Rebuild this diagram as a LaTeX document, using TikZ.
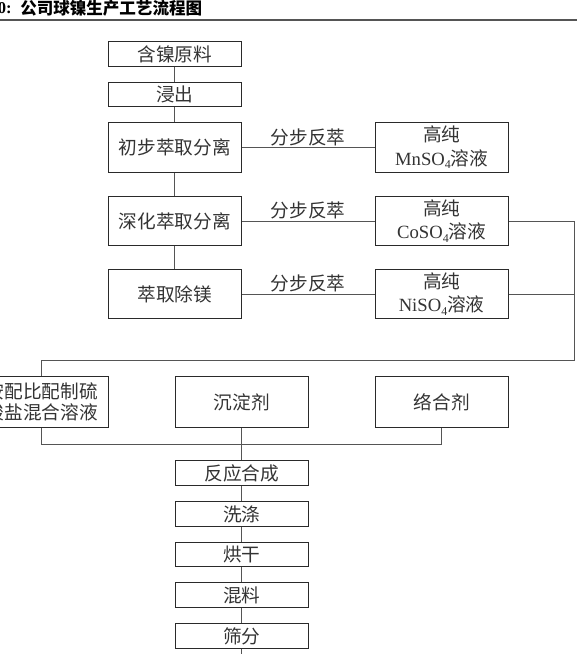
\documentclass[tikz,border=0pt]{standalone}
\usepackage{fontspec}
\setmainfont{Liberation Serif}
\newfontfamily\cjk{Noto Sans CJK SC}
\newcommand{\subfour}[1]{\raisebox{-0.4ex}{\fontsize{9}{9}\selectfont #1}}
\definecolor{boxc}{HTML}{2A2A2A}
\definecolor{linec}{HTML}{555555}
\definecolor{txt}{HTML}{333333}
\begin{document}
\begin{tikzpicture}[x=0.75pt,y=-0.75pt,
  box/.style={draw=boxc, line width=0.75pt, minimum width=100pt, inner sep=0pt,
    font=\fontsize{14}{17.5}\selectfont\cjk, text=txt, align=center},
  sbox/.style={box, minimum height=18.4pt},
  tbox/.style={box, minimum height=37.2pt},
  ubox/.style={box, minimum height=38pt},
  conn/.style={draw=linec, line width=0.75pt},
  lab/.style={font=\fontsize{14}{17}\selectfont\cjk, text=txt, inner sep=0pt, midway, yshift=7.9pt}]
\clip (0,0) rectangle (582,654);
% title
\node[anchor=west, inner sep=0pt, font=\fontsize{12.4}{14}\selectfont\cjk\bfseries] (title) at (20,8.5) {公司球镍生产工艺流程图};
\node[anchor=east, inner sep=0pt, font=\fontsize{12.4}{14}\selectfont\bfseries] (tnum) at (12,8.5) {0:};
\coordinate (rl) at (0,20);
\coordinate (rr) at (577,20);
\draw[draw=linec, line width=1.5pt] (rl) -- (rr);
% main column
\node[sbox] (raw) at (174.8,54.2) {含镍原料};
\node[sbox] (leach) at (174.8,94.3) {浸出};
\node[tbox] (ext1) at (174.8,147.5) {初步萃取分离};
\node[tbox] (ext2) at (174.8,221) {深化萃取分离};
\node[tbox] (ext3) at (174.8,294) {萃取除镁};
% right column
\node[tbox] (mn) at (441.7,147.5) {高纯\\{\rmfamily MnSO\subfour{4}}溶液};
\node[tbox] (co) at (441.7,221) {高纯\\{\rmfamily CoSO\subfour{4}}溶液};
\node[tbox] (ni) at (441.7,294) {高纯\\{\rmfamily NiSO\subfour{4}}溶液};
% middle row
\node[ubox, font=\fontsize{14}{16.2}\selectfont\cjk] (mix) at (41.7,402) {按配比配制硫\\酸盐混合溶液};
\node[ubox] (prec) at (241.7,402) {沉淀剂};
\node[ubox] (comp) at (441.7,402) {络合剂};
% bottom column
\node[sbox] (react) at (241.7,473) {反应合成};
\node[sbox] (wash) at (241.7,514) {洗涤};
\node[sbox] (dry) at (241.7,554.5) {烘干};
\node[sbox] (blend) at (241.7,595) {混料};
\node[sbox] (sieve) at (241.7,636) {筛分};
% connectors
\draw[conn] (raw) -- (leach);
\draw[conn] (leach) -- (ext1);
\draw[conn] (ext1) -- (ext2);
\draw[conn] (ext2) -- (ext3);
\draw[conn] (ext1) -- (mn) node[lab] {分步反萃};
\draw[conn] (ext2) -- (co) node[lab] {分步反萃};
\draw[conn] (ext3) -- (ni) node[lab] {分步反萃};
\coordinate (rj) at (574,360);
\coordinate (lj) at (41.7,360);
\draw[conn] (co.east) -- (co.east -| rj) -- (rj) -- (lj) -- (mix.north);
\draw[conn] (ni.east) -- (ni.east -| rj);
\coordinate (busl) at (41.7,444);
\coordinate (busr) at (441.7,444);
\draw[conn] (mix.south) -- (busl) -- (busr) -- (comp.south);
\draw[conn] (prec.south) -- (react.north);
\draw[conn] (react) -- (wash);
\draw[conn] (wash) -- (dry);
\draw[conn] (dry) -- (blend);
\draw[conn] (blend) -- (sieve);
\coordinate (tail) at (241.7,660);
\draw[conn] (sieve.south) -- (tail);
\end{tikzpicture}
\end{document}
